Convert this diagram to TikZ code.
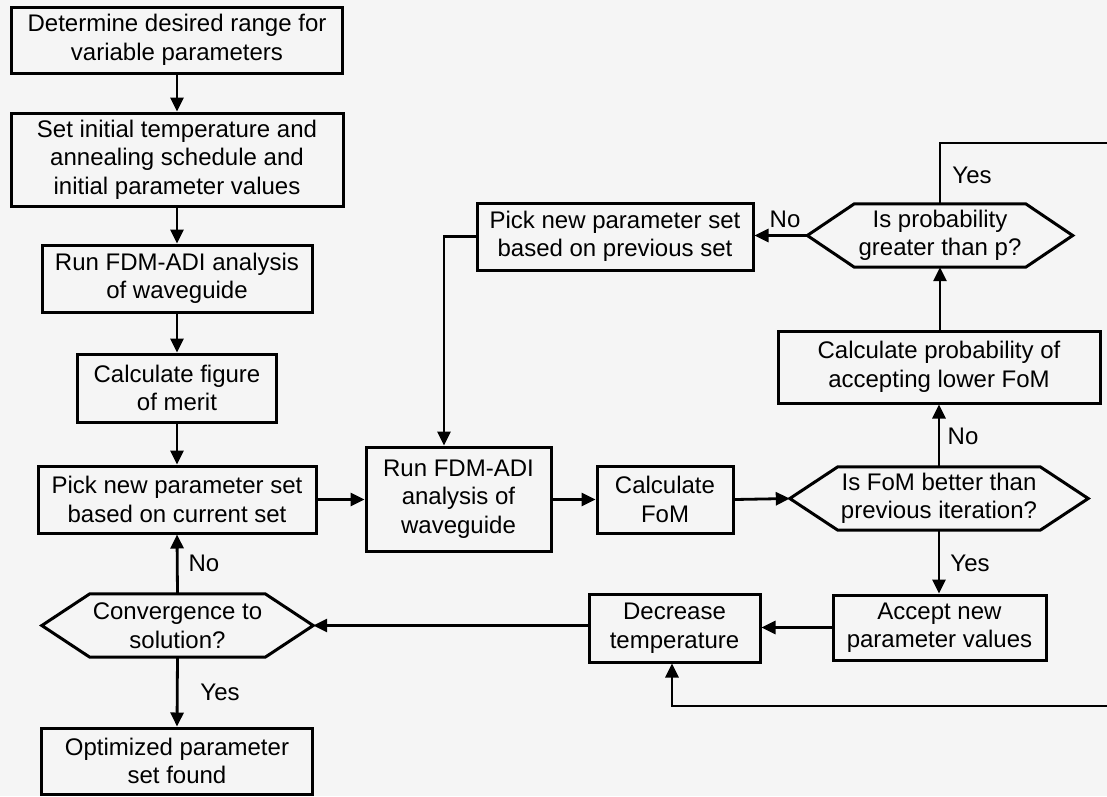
\documentclass[tikz,border=0pt]{standalone}
\usepackage{fontspec}
\setmainfont{Liberation Sans}
\usetikzlibrary{arrows.meta,calc}
\tikzset{
  box/.style={draw, line width=3pt, inner sep=0pt, align=center, anchor=center,
              font=\fontsize{24}{28.5}\selectfont},
  hexnode/.style={inner sep=0pt, align=center, anchor=center,
              font=\fontsize{24}{28.5}\selectfont},
  hexline/.style={draw, line width=3pt, line join=miter},
  conn/.style={line width=2.8pt, -{Triangle[length=14pt,width=13pt]}},
  plainconn/.style={line width=2.8pt},
  lbl/.style={font=\fontsize{24}{28}\selectfont, inner sep=0pt},
}
\newcommand\hexframe[2]{%
  \draw[hexline] (#1.west) -- ($(#1.north west)+(#2,0)$) -- ($(#1.north east)+(-#2,0)$)
    -- (#1.east) -- ($(#1.south east)+(-#2,0)$) -- ($(#1.south west)+(#2,0)$) -- cycle;}
\begin{document}
\begin{tikzpicture}[x=1pt,y=-1pt]
\useasboundingbox[fill=black!4] (0,0) rectangle (1107,796);

% left column
\node[box, minimum width=331pt, minimum height=66pt] (b1) at (177,40)
  {Determine desired range for\\variable parameters};
\node[box, minimum width=332pt, minimum height=93pt] (b2) at (177,159.5)
  {Set initial temperature and\\annealing schedule and\\initial parameter values};
\node[box, minimum width=270pt, minimum height=67pt] (b3) at (177,278.5)
  {Run FDM-ADI analysis\\of waveguide};
\node[box, minimum width=199pt, minimum height=68pt] (b4) at (177,388)
  {Calculate figure\\of merit};
\node[box, minimum width=278pt, minimum height=67pt] (b5) at (177,499.5)
  {Pick new parameter set\\based on current set};
\node[hexnode, minimum width=271pt, minimum height=63pt] (h1) at (177.5,625.5)
  {Convergence to\\solution?};
\hexframe{h1}{48}
\node[box, minimum width=271pt, minimum height=66pt] (b6) at (177,761)
  {Optimized parameter\\set found};

% middle and right
\node[box, minimum width=185pt, minimum height=104pt] (m1) at (458.5,499)
  {Run FDM-ADI\\analysis of\\waveguide};
\node[box, minimum width=276pt, minimum height=67pt] (m2) at (615,236.5)
  {Pick new parameter set\\based on previous set};
\node[box, minimum width=136pt, minimum height=67pt] (m3) at (665,499.5)
  {Calculate\\FoM};
\node[hexnode, minimum width=298pt, minimum height=63pt] (h2) at (939,498.5)
  {Is FoM better than\\previous iteration?};
\hexframe{h2}{48}
\node[box, minimum width=322pt, minimum height=72pt] (m4) at (939,367)
  {Calculate probability of\\accepting lower FoM};
\node[hexnode, minimum width=265pt, minimum height=63pt] (h3) at (940,235.5)
  {Is probability\\greater than p?};
\hexframe{h3}{47}
\node[box, minimum width=171pt, minimum height=68pt] (m5) at (674.5,628)
  {Decrease\\temperature};
\node[box, minimum width=213pt, minimum height=65pt] (m6) at (939.5,627.5)
  {Accept new\\parameter values};

\coordinate (ytop) at (940,143);
\coordinate (yedge) at (1107,143);
\coordinate (bedge) at (1107,706);
\coordinate (bturn) at (672,706);
\coordinate (pturn) at (444,236.5);

% connectors
\draw[conn] (b1) -- (b2);
\draw[conn] (b2) -- (b3);
\draw[conn] (b3) -- (b4);
\draw[conn] (b4) -- (b5);
\draw[conn] (h1.north) -- (b5.south);
\draw[conn] (h1.south) -- (b6.north);
\draw[conn] (b5.east) -- (m1.west |- b5.east);
\draw[conn] (m1.east |- m3.west) -- (m3.west);
\draw[conn] (m3.east) -- (h2.west);
\draw[conn] (h2.north) -- (m4.south);
\draw[conn] (m4.north -| h3.south) -- (h3.south);
\draw[conn] (h3.west) -- (m2.east |- h3.west);
\draw[plainconn] (h3.north) -- (ytop) -- (yedge);
\draw[conn] (m2.west |- pturn) -- (pturn) -- (pturn |- m1.north);
\draw[conn] (h2.south) -- (m6.north -| h2.south);
\draw[conn] (m6.west) -- (m5.east |- m6.west);
\draw[conn] (m5.west |- h1.east) -- (h1.east);
\draw[conn] (bedge) -- (bturn) -- (bturn |- m5.south);

% labels
\node[lbl] (l1) at (204,563) {No};
\node[lbl] (l2) at (220,692) {Yes};
\node[lbl] (l3) at (785,219) {No};
\node[lbl] (l4) at (972,175) {Yes};
\node[lbl] (l5) at (963,436) {No};
\node[lbl] (l6) at (970,563) {Yes};
\end{tikzpicture}
\end{document}
